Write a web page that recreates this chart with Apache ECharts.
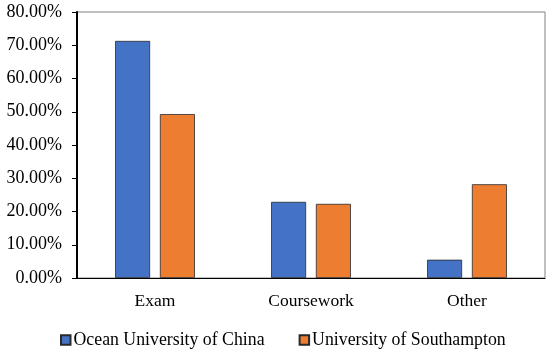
<!DOCTYPE html>
<html>
<head>
<meta charset="utf-8">
<script src="https://cdn.jsdelivr.net/npm/echarts@6/dist/echarts.min.js"></script>
<style>html,body{margin:0;padding:0;background:#fff}#c{width:550px;height:353px}</style>
</head>
<body>
<div id="c"></div>
<script>
const categories = ['Exam', 'Coursework', 'Other'];
const seriesNames = ['Ocean University of China', 'University of Southampton'];
const oucValues = [71.3, 22.9, 5.5];
const sotonValues = [49.3, 22.3, 28.2];
const yTicks = [0, 10, 20, 30, 40, 50, 60, 70, 80];

const font = 'Liberation Serif, Times New Roman, serif';
const chart = echarts.init(document.getElementById('c'));
chart.setOption({
  animation: false,
  backgroundColor: '#fff',
  textStyle: { fontFamily: font },
  grid: { left: 77, right: 5, top: 12, bottom: 75, containLabel: false, show: true, borderColor: '#808080', borderWidth: 1 },
  legend: {
    top: 331, left: 60, padding: 0, itemWidth: 9.5, itemHeight: 9.5, itemGap: 34,
    icon: 'rect',
    textStyle: { fontFamily: font, fontSize: 17.8, color: '#000', padding: [0, 0, 0, -2] },
    data: seriesNames
  },
  xAxis: {
    type: 'category', data: categories,
    axisLine: { lineStyle: { color: '#000', width: 1 } },
    axisTick: { show: false },
    axisLabel: { fontFamily: font, fontSize: 17.5, color: '#000', margin: 14 }
  },
  yAxis: {
    type: 'value', min: yTicks[0], max: yTicks[yTicks.length - 1], interval: 10,
    axisLine: { show: true, lineStyle: { color: '#000', width: 2 } },
    axisTick: { show: true, length: 5, lineStyle: { color: '#000', width: 1 } },
    splitLine: { show: false },
    axisLabel: { fontFamily: font, fontSize: 18, color: '#000', margin: 15, formatter: v => v.toFixed(2) + '%' }
  },
  series: [
    { name: seriesNames[0], type: 'bar', data: oucValues, barWidth: 35, barGap: '28%',
      itemStyle: { color: '#4472C4', borderColor: '#2a2a2a', borderWidth: 0.8 } },
    { name: seriesNames[1], type: 'bar', data: sotonValues, barWidth: 35,
      itemStyle: { color: '#ED7D31', borderColor: '#2a2a2a', borderWidth: 0.8 } }
  ]
});
</script>
</body>
</html>
